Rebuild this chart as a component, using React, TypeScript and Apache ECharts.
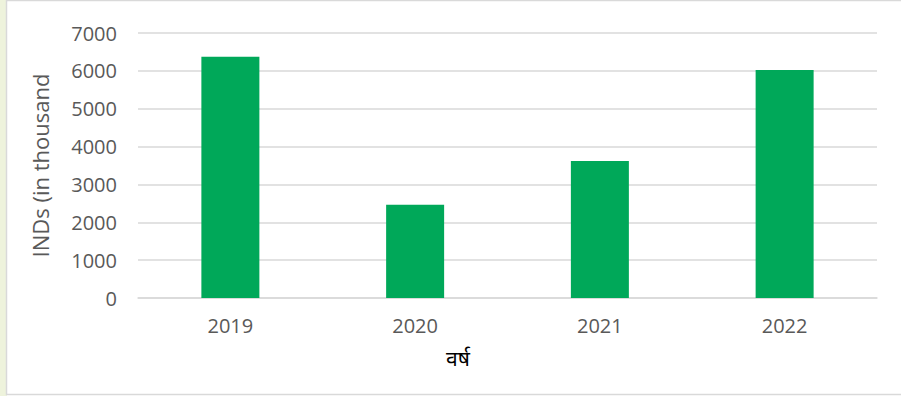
import React, { useEffect, useRef } from "react";
import * as echarts from "echarts";

const categories = ["2019", "2020", "2021", "2022"];
const values = [6370, 2460, 3620, 6020];
const yTicks = [0, 1000, 2000, 3000, 4000, 5000, 6000, 7000];
const yAxisTitle = "INDs (in thousand";
const xAxisTitle = "वर्ष";

export default function App() {
  const ref = useRef<HTMLDivElement>(null);
  useEffect(() => {
    document.body.style.margin = "0";
    const chart = echarts.init(ref.current!, null, { renderer: "svg" });
    const font = "'Open Sans', 'Noto Sans', sans-serif";
    chart.setOption({
      animation: false,
      graphic: [
        { type: "rect", shape: { x: 0, y: 0, width: 7, height: 396 }, style: { fill: "#eef3dc" }, silent: true, z: -10 },
        { type: "rect", shape: { x: 6.5, y: 0.5, width: 900, height: 394 }, style: { fill: "#ffffff", stroke: "#d9d9d9", lineWidth: 1.5 }, silent: true, z: -10 },
        {
          type: "text",
          x: 458,
          y: 358,
          style: { text: xAxisTitle, fill: "#000000", fontSize: 21, fontFamily: "'Noto Sans', sans-serif", align: "center", verticalAlign: "middle" },
        },
      ],
      grid: { left: 138, right: 24, top: 33, bottom: 98, containLabel: false },
      xAxis: {
        type: "category",
        data: categories,
        axisLine: { show: true, lineStyle: { color: "#d9d9d9", width: 1.5 } },
        axisTick: { show: false },
        axisLabel: { color: "#595959", fontSize: 20, fontFamily: font, margin: 17 },
      },
      yAxis: {
        type: "value",
        min: yTicks[0],
        max: yTicks[yTicks.length - 1],
        interval: 1000,
        name: yAxisTitle,
        nameLocation: "middle",
        nameGap: 87,
        nameRotate: 90,
        nameTextStyle: { color: "#595959", fontSize: 22, fontFamily: font },
        axisLine: { show: false },
        axisTick: { show: false },
        axisLabel: { color: "#595959", fontSize: 20, fontFamily: font, margin: 21, formatter: (v: number) => String(v) },
        splitLine: { lineStyle: { color: "#d9d9d9", width: 1.5 } },
      },
      series: [
        {
          type: "bar",
          data: values,
          barWidth: 58,
          itemStyle: { color: "#00a859" },
        },
      ],
    });
    return () => chart.dispose();
  }, []);
  return <div ref={ref} style={{ width: 901, height: 396 }} />;
}
